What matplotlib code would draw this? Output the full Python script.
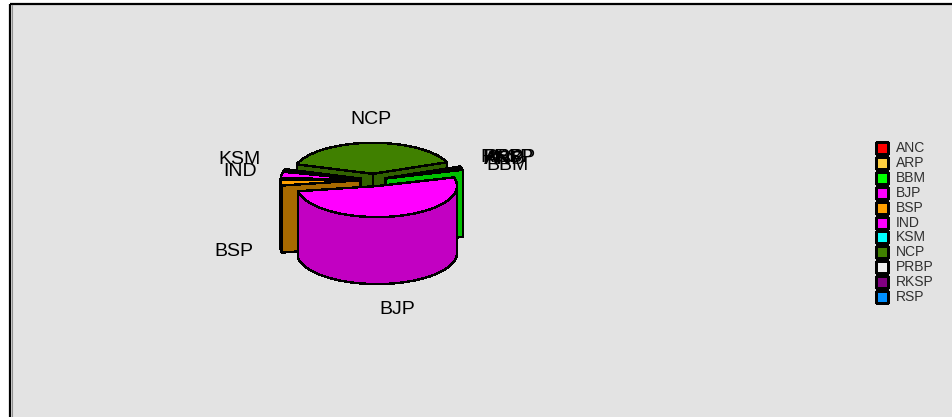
import numpy as np
from matplotlib import pyplot as plt
from matplotlib.patches import Polygon, Rectangle

parties = ["ANC", "ARP", "BBM", "BJP", "BSP", "IND", "KSM", "NCP", "PRBP", "RKSP", "RSP"]
shares = [0.1, 0.1, 1.0, 51.7, 3.2, 3.4, 1.0, 38.9, 0.1, 0.2, 0.1]
colors = ["#ff0000", "#ffd040", "#00ff00", "#ff00ff", "#ffa000", "#ff00ff",
          "#00ffff", "#408000", "#f0f0f0", "#800080", "#0090ff"]
explode = [13, 13, 13, 16, 13, 13, 13, 16, 13, 13, 13]
draw_order = ["NCP", "PRBP", "RKSP", "RSP", "ANC", "ARP", "BBM", "KSM", "IND", "BSP", "BJP"]

label_pos = {"NCP": (371, 119), "BJP": (397, 309), "BSP": (234, 251), "IND": (240, 171),
             "KSM": (240, 159), "ANC": (505, 159), "ARP": (505, 159), "BBM": (507, 165),
             "PRBP": (509, 158), "RKSP": (507, 158), "RSP": (503, 158)}

CX, CY = 373.5, 180
RX, RY = 80, 31
DEPTH = 67
START = 20.5


def shade(color, f=0.76):
    r, g, b = plt.matplotlib.colors.to_rgb(color)
    return (r * f, g * f, b * f)


def face(ax, pts, color):
    ax.add_patch(Polygon(pts, closed=True, facecolor=color, edgecolor="black",
                         linewidth=1.0, antialiased=False))


def draw_slice(ax, a1, a2, color, boom):
    mid = np.radians((a1 + a2) / 2)
    x0 = CX + boom * np.cos(mid)
    y0 = CY - boom * RY / RX * np.sin(mid)
    t = np.radians(np.linspace(a1, a2, max(int(a1 - a2), 2) + 2))
    xs = x0 + RX * np.cos(t)
    ys = y0 - RY * np.sin(t)
    dark = shade(color, 0.66 if color == "#ffa000" else 0.76)
    # cut faces first, then the outer wall on the front of the pie
    for x, y in sorted([(xs[0], ys[0]), (xs[-1], ys[-1])], key=lambda p: p[1]):
        face(ax, [(x0, y0), (x, y), (x, y + DEPTH), (x0, y0 + DEPTH)], dark)
    front = np.sin(t) <= 0.02
    if front.sum() > 1:
        fx, fy = xs[front], ys[front]
        pts = list(zip(fx, fy)) + list(zip(fx[::-1], fy[::-1] + DEPTH))
        face(ax, pts, dark)
    face(ax, [(x0, y0)] + list(zip(xs, ys)), color)


def main():
    fig = plt.figure(figsize=(9.52, 4.17), dpi=100)
    ax = fig.add_axes([0, 0, 1, 1])
    ax.set_xlim(0, 952)
    ax.set_ylim(417, 0)
    ax.axis("off")

    # panel with the black top and left border
    ax.add_patch(Rectangle((10, 4), 950, 420, facecolor="#e3e3e3", edgecolor="none"))
    ax.plot([10, 10], [417, 4], color="black", lw=1.6, solid_capstyle="butt")
    ax.plot([10, 952], [4, 4], color="black", lw=1.6, solid_capstyle="butt")
    ax.plot([11.8, 11.8], [417, 5], color="#909090", lw=0.8)

    fracs = np.array(shares) / sum(shares) * 360
    ends = START - np.cumsum(fracs)
    starts = ends + fracs
    for name in draw_order:
        i = parties.index(name)
        draw_slice(ax, starts[i], ends[i], colors[i], explode[i])

    for name, (x, y) in label_pos.items():
        ax.text(x, y, name, ha="center", va="center", fontsize=14,
                family="Liberation Sans", color="black")

    # legend down the right side
    for i, name in enumerate(parties):
        y = 148 + i * 14.9
        ax.add_patch(Rectangle((876, y - 6), 12, 12, facecolor=colors[i], edgecolor="black",
                               linewidth=1.0, antialiased=False))
        ax.text(896, y, name, ha="left", va="center", fontsize=10,
                family="Liberation Sans", color="#303030")

    fig.savefig("out.png", dpi=100)


if __name__ == "__main__":
    main()
